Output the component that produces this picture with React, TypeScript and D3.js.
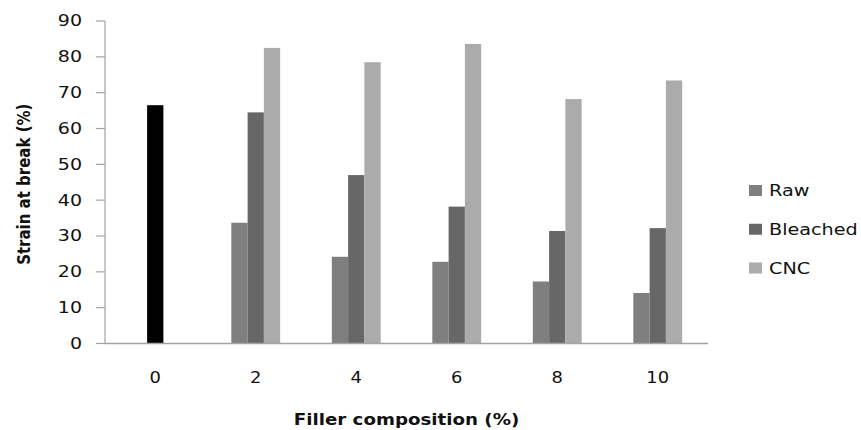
import React, { useEffect, useRef } from 'react';
import * as d3 from 'd3';

// Data
const categories = ['0', '2', '4', '6', '8', '10'];
const seriesNames = ['Raw', 'Bleached', 'CNC'];
const controlValue = [66.5];
const rawValues = [null, 33.7, 24.2, 22.8, 17.3, 14.1];
const bleachedValues = [null, 64.5, 47.0, 38.2, 31.4, 32.2];
const cncValues = [null, 82.5, 78.5, 83.6, 68.2, 73.4];
const yTicks = [0, 10, 20, 30, 40, 50, 60, 70, 80, 90];

const seriesColors: Record<string, string> = {
  Raw: '#7f7f7f',
  Bleached: '#676767',
  CNC: '#ababab',
};

const WIDTH = 861;
const HEIGHT = 430;
const FONT = '"DejaVu Sans", Verdana, sans-serif';

const App: React.FC = () => {
  const svgRef = useRef<SVGSVGElement>(null);

  useEffect(() => {
    if (!svgRef.current) return;
    const svg = d3.select(svgRef.current);
    svg.selectAll('*').remove();

    const plot = { left: 105, right: 708, top: 21, bottom: 343.5 };

    const x = d3.scaleBand<string>()
      .domain(categories)
      .range([plot.left, plot.right])
      .padding(0);

    const y = d3.scaleLinear()
      .domain([0, 90])
      .range([plot.bottom, plot.top]);

    const barWidth = x.bandwidth() * 0.162;

    const inner = d3.scaleBand<string>()
      .domain(seriesNames)
      .range([-1.5 * barWidth, 1.5 * barWidth])
      .padding(0);

    const rows = seriesNames.map((name, i) => ({
      name,
      values: [rawValues, bleachedValues, cncValues][i],
    }));

    // Grouped bars
    rows.forEach(row => {
      svg.append('g')
        .selectAll('rect')
        .data(row.values.map((v, i) => ({ cat: categories[i], v })).filter(d => d.v != null))
        .enter().append('rect')
        .attr('x', d => (x(d.cat) as number) + x.bandwidth() / 2 + (inner(row.name) as number))
        .attr('y', d => y(d.v as number))
        .attr('width', inner.bandwidth())
        .attr('height', d => y(0) - y(d.v as number))
        .attr('fill', seriesColors[row.name]);
    });

    // Neat matrix (0 %) bar
    svg.append('g')
      .selectAll('rect')
      .data(controlValue)
      .enter().append('rect')
      .attr('x', (x(categories[0]) as number) + x.bandwidth() / 2 - barWidth / 2)
      .attr('y', d => y(d))
      .attr('width', barWidth)
      .attr('height', d => y(0) - y(d))
      .attr('fill', '#000000');

    // Axes
    const axisColor = '#a3a3a3';
    svg.append('line')
      .attr('x1', plot.left).attr('x2', plot.left)
      .attr('y1', y(90)).attr('y2', y(0))
      .attr('stroke', axisColor).attr('stroke-width', 1.2);
    svg.append('line')
      .attr('x1', plot.left).attr('x2', plot.right)
      .attr('y1', y(0)).attr('y2', y(0))
      .attr('stroke', axisColor).attr('stroke-width', 1.5);

    svg.append('g')
      .selectAll('line')
      .data(yTicks)
      .enter().append('line')
      .attr('x1', plot.left - 9).attr('x2', plot.left)
      .attr('y1', d => y(d)).attr('y2', d => y(d))
      .attr('stroke', axisColor).attr('stroke-width', 1.2);

    // Y tick labels (glyphs are stretched horizontally in the reference)
    svg.append('g')
      .selectAll('text')
      .data(yTicks)
      .enter().append('text')
      .attr('transform', d => `translate(82,${y(d)}) scale(1.27,1)`)
      .attr('dy', '0.36em')
      .attr('text-anchor', 'end')
      .attr('font-family', FONT)
      .attr('font-size', 15)
      .attr('fill', '#111')
      .text(d => d);

    // X tick labels
    svg.append('g')
      .selectAll('text')
      .data(categories)
      .enter().append('text')
      .attr('transform', d => `translate(${(x(d) as number) + x.bandwidth() / 2},383) scale(1.12,1)`)
      .attr('text-anchor', 'middle')
      .attr('font-family', FONT)
      .attr('font-size', 16)
      .attr('fill', '#111')
      .text(d => d);

    // Axis titles
    svg.append('text')
      .attr('transform', `translate(${(plot.left + plot.right) / 2},425) scale(1.14,1)`)
      .attr('text-anchor', 'middle')
      .attr('font-family', FONT)
      .attr('font-weight', 'bold')
      .attr('font-size', 16)
      .attr('fill', '#111')
      .text('Filler composition (%)');

    svg.append('text')
      .attr('transform', `translate(30,${(plot.top + plot.bottom) / 2 + 2}) rotate(-90) scale(1,1.12)`)
      .attr('text-anchor', 'middle')
      .attr('font-family', FONT)
      .attr('font-weight', 'bold')
      .attr('font-size', 15)
      .attr('fill', '#111')
      .text('Strain at break (%)');

    // Legend
    const legendY = d3.scalePoint<string>()
      .domain(seriesNames)
      .range([190.5, 268]);

    const legend = svg.append('g')
      .selectAll('g')
      .data(seriesNames)
      .enter().append('g')
      .attr('transform', d => `translate(749,${legendY(d)})`);

    legend.append('rect')
      .attr('x', 0)
      .attr('y', -5.5)
      .attr('width', 13)
      .attr('height', 11)
      .attr('fill', d => seriesColors[d]);

    legend.append('text')
      .attr('transform', 'translate(20,0) scale(1.2,1)')
      .attr('dy', '0.36em')
      .attr('font-family', FONT)
      .attr('font-size', 16)
      .attr('fill', '#111')
      .text(d => d);
  }, []);

  return (
    <svg
      ref={svgRef}
      width={WIDTH}
      height={HEIGHT}
      style={{ position: 'absolute', left: 0, top: 0, background: '#ffffff' }}
    />
  );
};

export default App;
